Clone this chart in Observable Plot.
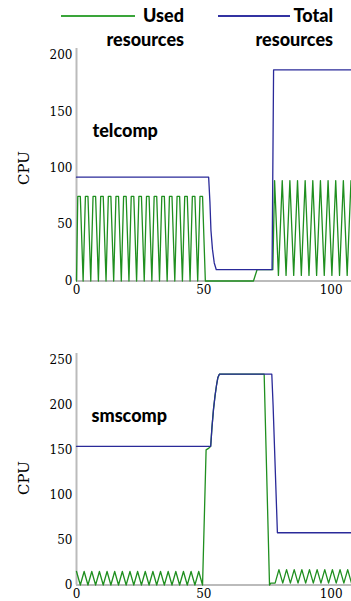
<!DOCTYPE html>
<html><head><meta charset="utf-8">
<script src="https://cdn.jsdelivr.net/npm/d3@7"></script>
<script src="https://cdn.jsdelivr.net/npm/@observablehq/plot@0.6"></script>
<style>
body{margin:0;background:#fff;}
#wrap{position:relative;width:351px;height:601px;overflow:hidden;font-family:Lato,"Open Sans",sans-serif;}
.leg{position:absolute;top:3px;font-weight:900;font-size:18px;text-align:right;line-height:24px;color:#000;white-space:nowrap}
.sw{position:absolute;top:15px;height:2px}
.cpu{position:absolute;font-family:"DejaVu Serif",serif;font-size:15px;transform:translate(-50%,-50%) rotate(-90deg);white-space:nowrap}
.chart{position:absolute;left:0}
</style></head><body><div id="wrap">
<div class="sw" style="left:61px;width:74px;background:#3aa53a"></div>
<div class="leg" style="right:167px">Used<br>resources</div>
<div class="sw" style="left:218px;width:72px;background:#3232a2"></div>
<div class="leg" style="right:18px">Total<br>resources</div>
<div class="cpu" style="left:24px;top:168px">CPU</div>
<div class="cpu" style="left:24px;top:478px">CPU</div>
<div id="c1" class="chart" style="top:40px"></div>
<div id="c2" class="chart" style="top:330px"></div>
</div>
<script>
// shared
const xTicks = [0, 50, 100];
const seriesNames = ["Used resources", "Total resources"];

// telcomp
const telcompName = "telcomp";
const telcompYTicks = [0, 50, 100, 150, 200];
const telcompUsedT = [0, 0.5, 1.5, 2.6, 3.5, 4.5, 5.6, 6.5, 7.5, 8.6, 9.5, 10.5, 11.6, 12.5, 13.5, 14.6, 15.5, 16.5, 17.6, 18.5, 19.5, 20.6, 21.5, 22.5, 23.6, 24.5, 25.5, 26.6, 27.5, 28.5, 29.6, 30.5, 31.5, 32.6, 33.5, 34.5, 35.6, 36.5, 37.5, 38.6, 39.5, 40.5, 41.6, 42.5, 43.5, 44.6, 45.5, 46.5, 47.6, 48.5, 49.5, 50.6, 69.5, 70.9, 77.1, 77.8, 79.3, 80.8, 82.3, 83.8, 85.3, 86.8, 88.3, 89.8, 91.3, 92.8, 94.3, 95.8, 97.3, 98.8, 100.3, 101.8, 103.3, 104.8, 106.3, 107.8];
const telcompUsedV = [0, 75, 75, 0, 75, 75, 0, 75, 75, 0, 75, 75, 0, 75, 75, 0, 75, 75, 0, 75, 75, 0, 75, 75, 0, 75, 75, 0, 75, 75, 0, 75, 75, 0, 75, 75, 0, 75, 75, 0, 75, 75, 0, 75, 75, 0, 75, 75, 0, 75, 75, 0, 0, 10, 10, 89, 5, 89, 5, 89, 5, 89, 5, 89, 5, 89, 5, 89, 5, 89, 5, 89, 5, 89, 5, 89];
const telcompTotalT = [0, 51.9, 52.4, 52.8, 53.4, 54.1, 54.9, 76.8, 77.4, 108];
const telcompTotalV = [92, 92, 70, 45, 28, 16, 10, 10, 187, 187];

// smscomp
const smscompName = "smscomp";
const smscompYTicks = [0, 50, 100, 150, 200, 250];
const smscompUsedT = [0, 1.5, 3, 4.5, 6, 7.5, 9, 10.5, 12, 13.5, 15, 16.5, 18, 19.5, 21, 22.5, 24, 25.5, 27, 28.5, 30, 31.5, 33, 34.5, 36, 37.5, 39, 40.5, 42, 43.5, 45, 46.5, 48, 49.5, 50.9, 52.0, 52.7, 53.2, 53.8, 54.4, 55.0, 55.5, 56.1, 73.7, 75.8, 76.3, 78.0, 79.5, 81, 82.5, 84, 85.5, 87, 88.5, 90, 91.5, 93, 94.5, 96, 97.5, 99, 100.5, 102, 103.5, 105, 106.5, 108];
const smscompUsedV = [15, 0, 15, 0, 15, 0, 15, 0, 15, 0, 15, 0, 15, 0, 15, 0, 15, 0, 15, 0, 15, 0, 15, 0, 15, 0, 15, 0, 15, 0, 15, 0, 15, 0, 150, 152, 154, 175, 195, 210, 222, 230, 234, 234, 0, 2, 2, 17, 2, 17, 2, 17, 2, 17, 2, 17, 2, 17, 2, 17, 2, 17, 2, 17, 2, 17, 2];
const smscompTotalT = [0, 52.7, 53.2, 53.8, 54.4, 55.0, 55.5, 56.1, 76.7, 77.2, 78.9, 108];
const smscompTotalV = [154, 154, 175, 195, 210, 222, 230, 234, 234, 200, 58, 58];

const GREEN = "#1f8f1f", BLUE = "#2a2a99";

function rows(T, V, s) { return T.map((t, i) => ({t, v: V[i], s})); }

function chart(opts) {
  const used = rows(opts.usedT, opts.usedV, seriesNames[0]);
  const total = rows(opts.totalT, opts.totalV, seriesNames[1]);
  return Plot.plot({
    width: 351, height: opts.h,
    marginLeft: 76, marginRight: 0, marginTop: opts.mt, marginBottom: opts.mb,
    style: {fontFamily: "DejaVu Serif", fontSize: "12px", background: "transparent", color: "#000"},
    x: {domain: [0, 108], ticks: xTicks, tickSize: 0, tickPadding: 4, label: null},
    y: {domain: [0, opts.ymax], ticks: opts.yticks, tickSize: 0, tickPadding: 4, label: null},
    marks: [
      Plot.ruleX([0], {stroke: "#bbb", strokeWidth: 2}),
      Plot.ruleY([0], {stroke: "#bbb", strokeWidth: 2}),
      Plot.line(used, {x: "t", y: "v", stroke: GREEN, strokeWidth: 1.3}),
      Plot.line(total, {x: "t", y: "v", stroke: BLUE, strokeWidth: 1.3}),
      Plot.text([opts.name], {frameAnchor: "top-left", dx: opts.dx, dy: opts.dy, textAnchor: "start", lineAnchor: "middle",
        fontFamily: "Lato, 'Open Sans', sans-serif", fontWeight: 900, fontSize: 18, fill: "#000"})
    ]
  });
}

document.getElementById("c1").append(chart({
  usedT: telcompUsedT, usedV: telcompUsedV, totalT: telcompTotalT, totalV: telcompTotalV,
  ymax: 206, yticks: telcompYTicks, name: telcompName, h: 262, mt: 8, mb: 21.5, dx: 16, dy: 83
}));
document.getElementById("c2").append(chart({
  usedT: smscompUsedT, usedV: smscompUsedV, totalT: smscompTotalT, totalV: smscompTotalV,
  ymax: 257, yticks: smscompYTicks, name: smscompName, h: 271, mt: 23, mb: 16.5, dx: 15, dy: 63
}));
</script>
</body></html>
